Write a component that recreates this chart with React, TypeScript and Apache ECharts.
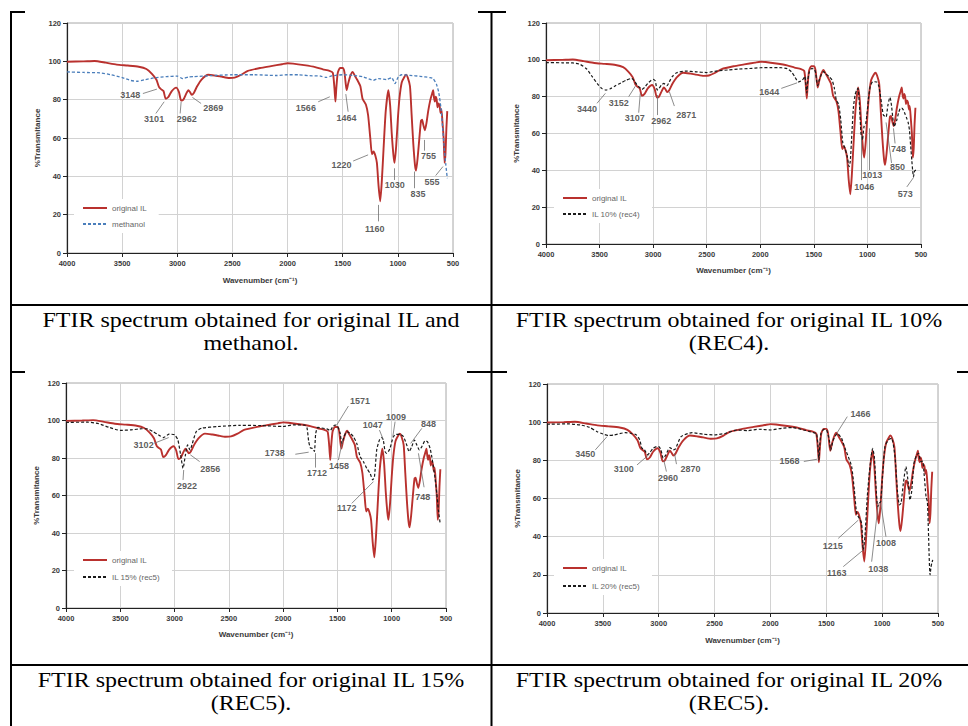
import React, { useEffect, useRef } from 'react';
import * as echarts from 'echarts';

type Pt = [number, number];

// ---- spectra: [wavenumber (cm-1), %Transmitance] ----
const ORIGINAL_IL: Pt[] = [
  [4000, 99.8], [3850, 100], [3750, 100.2], [3650, 99.3], [3550, 98.3], [3450, 97.8], [3350, 97.2],
  [3280, 96], [3230, 93.5], [3190, 90.5], [3165, 86.5], [3148, 85.5], [3125, 84.5], [3105, 80.5],
  [3080, 81.5], [3050, 84.5], [3010, 86.3], [2985, 84], [2965, 79.5], [2945, 80], [2920, 83],
  [2900, 85], [2885, 84], [2869, 82.5], [2850, 83.5], [2820, 87], [2780, 90.5], [2720, 93],
  [2650, 92.5], [2600, 92], [2530, 91.3], [2480, 91.5], [2420, 93], [2360, 95], [2250, 96.5],
  [2150, 97.5], [2050, 98.5], [2000, 99], [1950, 98.8], [1850, 98], [1750, 97], [1680, 95.8],
  [1620, 95], [1590, 94], [1575, 86], [1566, 79], [1558, 86], [1545, 94], [1525, 96.5], [1500, 96.5],
  [1485, 94.5], [1472, 88], [1464, 85], [1450, 88.5], [1430, 92.5], [1410, 94.5], [1390, 92.5],
  [1370, 90.5], [1340, 87], [1320, 80.5], [1290, 77.5], [1270, 72], [1250, 60], [1235, 51.5],
  [1220, 53], [1205, 51], [1190, 47], [1175, 35], [1160, 27], [1145, 38], [1130, 54], [1110, 74],
  [1086, 85], [1070, 77], [1055, 62], [1040, 51], [1030, 47], [1015, 56], [1000, 70], [985, 81],
  [965, 89], [940, 92], [925, 93], [910, 91.5], [890, 87], [875, 72], [860, 57], [845, 46],
  [835, 43], [820, 50], [805, 60], [790, 69], [780, 69.5], [770, 67], [755, 64], [740, 68],
  [725, 74], [705, 80], [690, 83], [680, 85], [672, 81], [664, 79], [657, 81.5], [648, 80],
  [640, 76], [632, 78], [622, 77], [612, 73], [605, 75], [595, 68], [585, 60], [576, 47],
  [568, 52], [560, 65], [552, 74],
];

const METHANOL: Pt[] = [
  [4000, 94.5], [3850, 94.2], [3700, 94], [3600, 93], [3500, 91.5], [3420, 90], [3366, 89.6],
  [3300, 90.3], [3200, 91.5], [3100, 92], [3000, 92.3], [2950, 91], [2900, 91.8], [2850, 92],
  [2700, 92.5], [2500, 93], [2300, 93], [2100, 92.6], [2000, 93], [1900, 93], [1800, 92.5],
  [1700, 92.3], [1650, 91.6], [1600, 92.4], [1500, 93], [1400, 92.6], [1313, 91.9], [1222, 90.1],
  [1177, 91], [1102, 90.5], [1056, 91.5], [1026, 88.4], [996, 91.9], [965, 93], [890, 92.7],
  [799, 92.2], [709, 91.5], [680, 91], [650, 88], [630, 84], [610, 76], [595, 66], [580, 55],
  [565, 46], [552, 39],
];

const IL_10_REC4: Pt[] = [
  [4000, 98.5], [3850, 98.4], [3750, 98.3], [3680, 97.5], [3620, 95], [3570, 91], [3520, 87],
  [3480, 84.5], [3440, 83.6], [3400, 84.3], [3350, 86], [3300, 87.5], [3250, 89], [3200, 89.9],
  [3175, 88.5], [3152, 86.5], [3130, 85.2], [3105, 84], [3080, 85], [3050, 87.2], [3020, 88.8],
  [3000, 89.4], [2980, 88.5], [2962, 83.6], [2945, 84.5], [2920, 86.5], [2900, 87.2], [2885, 86.5],
  [2871, 86], [2850, 88], [2820, 91], [2780, 93], [2700, 93.9], [2600, 93.5], [2500, 93.1],
  [2400, 94], [2300, 94.5], [2200, 95], [2100, 95.3], [2000, 95.7], [1900, 95.8], [1800, 95.7],
  [1750, 95.2], [1710, 93.5], [1680, 91], [1660, 89], [1644, 88], [1620, 88.5], [1600, 89.5],
  [1585, 91], [1575, 87], [1566, 82], [1558, 88], [1545, 93], [1520, 95.3], [1500, 95],
  [1485, 93.5], [1472, 88], [1464, 86], [1450, 89], [1430, 92], [1410, 93.6], [1390, 92.5],
  [1360, 91], [1330, 89], [1310, 85], [1290, 78], [1270, 76], [1250, 68], [1230, 55], [1210, 52],
  [1190, 48], [1171, 42], [1160, 45], [1145, 60], [1131, 74], [1115, 81], [1100, 83.6],
  [1088, 84.5], [1075, 76], [1060, 60], [1047, 56.4], [1032, 63.7], [1016, 65.5], [1005, 70],
  [990, 79], [975, 85.4], [960, 87.5], [944, 88.1], [913, 88], [895, 86], [882, 81.8], [865, 75],
  [851, 70], [826, 69], [810, 75], [795, 79], [789, 79.6], [775, 75], [764, 69], [751, 63.7],
  [740, 65], [726, 67.3], [710, 71], [695, 73.6], [680, 73.8], [664, 72.7], [648, 70.5],
  [633, 68.2], [620, 66], [608, 61.9], [596, 53], [586, 45.6], [578, 40], [570, 36.5], [562, 39],
  [555, 40], [545, 40],
];

const IL_15_REC5: Pt[] = [
  [4000, 99], [3800, 99.1], [3700, 98.3], [3600, 96.3], [3500, 94.7], [3400, 95], [3300, 95.6],
  [3250, 95.5], [3200, 94.1], [3150, 92.4], [3102, 90.9], [3050, 92.7], [3000, 92.4], [2970, 89.7],
  [2945, 82], [2922, 74.5], [2900, 81.7], [2880, 87], [2865, 85], [2856, 84.3], [2840, 87],
  [2800, 94.1], [2750, 95.9], [2600, 96.8], [2400, 97.4], [2200, 97.3], [2000, 96.8], [1900, 97.7],
  [1800, 97.5], [1780, 96], [1765, 89], [1750, 85.5], [1738, 85.2], [1725, 85], [1712, 83.5],
  [1700, 93], [1680, 96.3], [1600, 95.5], [1580, 95], [1568, 94.5], [1545, 96.5], [1521, 97.6],
  [1500, 97], [1475, 93.2], [1460, 87.8], [1439, 91.4], [1414, 94], [1383, 93.2], [1353, 91.4],
  [1322, 87.8], [1291, 80.7], [1260, 78], [1230, 74.5], [1199, 71.8], [1175, 68.3], [1159, 70],
  [1138, 84.3], [1113, 89.6], [1092, 91], [1076, 89], [1061, 83.4], [1046, 82.5], [1030, 83.5],
  [1015, 85.2], [985, 91.4], [960, 92.6], [923, 92.6], [892, 91.4], [862, 87], [840, 83.4],
  [816, 86], [791, 89.6], [769, 87], [745, 84.3], [723, 86], [692, 89.2], [671, 88.7], [647, 85.2],
  [631, 80.7], [616, 75.4], [600, 69], [585, 61.2], [570, 52.3], [554, 45.2],
];

const IL_20_REC5: Pt[] = [
  [4000, 98.9], [3800, 99.1], [3700, 98.5], [3620, 97.3], [3550, 95], [3500, 93.8], [3450, 93],
  [3400, 93.3], [3300, 94.5], [3250, 94.2], [3200, 93.3], [3170, 90.7], [3150, 86.3], [3130, 85.8],
  [3100, 82.9], [3080, 84], [3050, 86.3], [3020, 87.2], [3000, 87.2], [2980, 85.5], [2960, 81.1],
  [2940, 82.5], [2900, 86.7], [2870, 85.5], [2850, 86], [2800, 92.4], [2700, 94.5], [2600, 93.7],
  [2500, 93.3], [2400, 94.2], [2300, 95.9], [2200, 95.6], [2100, 96.3], [2000, 95.9], [1900, 96.8],
  [1800, 97.2], [1700, 95.9], [1646, 95], [1600, 94.3], [1587, 94.1], [1575, 88], [1566, 80.2],
  [1558, 88], [1548, 94], [1521, 96.2], [1497, 95.9], [1473, 90.7], [1461, 85.4], [1437, 90.7],
  [1401, 94.1], [1363, 91.5], [1333, 86.3], [1303, 81.9], [1273, 76.7], [1249, 64.5], [1228, 52.2],
  [1204, 49.6], [1184, 47], [1169, 33], [1154, 40], [1133, 61], [1109, 76.7], [1085, 86.3],
  [1070, 81.9], [1055, 66.2], [1040, 55.7], [1025, 57.5], [1013, 58.3], [995, 73.2], [975, 87.2],
  [945, 90.7], [915, 91.5], [885, 81.9], [864, 64.5], [846, 56.6], [831, 57.5], [810, 68],
  [787, 76.7], [766, 68], [751, 59.2], [736, 63.6], [715, 78.4], [691, 82.8], [673, 83.7],
  [655, 79.3], [637, 79.5], [625, 73.2], [607, 61], [595, 58.3], [586, 43.5], [577, 26], [571, 20],
  [563, 24], [556, 26], [547, 27.8],
];

// ---- peak annotations: label anchor and leader line, in data units ----
type Ann = { text: string; at: Pt; line: [Pt, Pt] };
const PEAKS_METHANOL: Ann[] = [
  { text: '3148', at: [3427, 82.4], line: [[3312, 83.2], [3185, 85.5]] },
  { text: '3101', at: [3210, 69.9], line: [[3194, 72.8], [3119, 78.9]] },
  { text: '2962', at: [2914, 69.9], line: [[2974, 72.8], [2965, 78.9]] },
  { text: '2869', at: [2673, 75.4], line: [[2784, 78], [2863, 81.2]] },
  { text: '1566', at: [1834, 75.9], line: [[1722, 78.9], [1617, 81.5]] },
  { text: '1464', at: [1466, 70.6], line: [[1451, 73.7], [1472, 82.9]] },
  { text: '1220', at: [1511, 46], line: [[1405, 48], [1270, 51.2]] },
  { text: '1030', at: [1028, 35.5], line: [[1034, 38.1], [1034, 44.2]] },
  { text: '1160', at: [1209, 12.7], line: [[1179, 16.5], [1179, 25.1]] },
  { text: '835', at: [817, 30.7], line: [[847, 33.8], [847, 42.5]] },
  { text: '755', at: [721, 50.8], line: [[763, 53.4], [763, 59]] },
  { text: '555', at: [690, 37.3], line: [[657, 40.4], [591, 45.1]] },
];
const PEAKS_REC4: Ann[] = [
  { text: '3440', at: [3617, 73.1], line: [[3524, 76.4], [3446, 81.8]] },
  { text: '3152', at: [3322, 76.4], line: [[3228, 80], [3166, 85.7]] },
  { text: '3107', at: [3172, 68.2], line: [[3135, 71.3], [3120, 81.8]] },
  { text: '2962', at: [2924, 67], line: [[2964, 70], [2964, 80.9]] },
  { text: '2871', at: [2690, 70], line: [[2802, 74.9], [2849, 82.7]] },
  { text: '1644', at: [1916, 82.7], line: [[1804, 84.5], [1657, 87.5]] },
  { text: '1046', at: [1030, 31], line: [[1060, 34.7], [1060, 59.2]] },
  { text: '1013', at: [954, 37.4], line: [[982, 40.1], [982, 62.8]] },
  { text: '748', at: [710, 51.5], line: [[742, 54.6], [757, 62.8]] },
  { text: '850', at: [719, 41.6], line: [[775, 44], [826, 66]] },
  { text: '573', at: [648, 27.4], line: [[632, 31], [570, 36.1]] },
];
const PEAKS_REC5_15: Ann[] = [
  { text: '3102', at: [3285, 87], line: [[3186, 87.9], [3054, 90.9]] },
  { text: '2922', at: [2886, 65.3], line: [[2922, 68.3], [2916, 73.6]] },
  { text: '2856', at: [2671, 74.2], line: [[2769, 78.1], [2855, 81.7]] },
  { text: '1738', at: [2078, 82.9], line: [[1888, 82], [1765, 83.1]] },
  { text: '1712', at: [1688, 71.9], line: [[1704, 74.9], [1704, 82.6]] },
  { text: '1458', at: [1485, 75.7], line: [[1491, 78.9], [1451, 89.6]] },
  { text: '1571', at: [1291, 110.6], line: [[1399, 107.7], [1506, 97.6]] },
  { text: '1047', at: [1175, 97.6], line: [[1113, 94.9], [1076, 89.6]] },
  { text: '1009', at: [960, 102], line: [[969, 99.4], [990, 91.4]] },
  { text: '848', at: [662, 98.1], line: [[723, 95.8], [825, 87.8]] },
  { text: '748', at: [714, 59], line: [[702, 64.4], [754, 82.5]] },
  { text: '1172', at: [1414, 53.2], line: [[1368, 55.8], [1168, 67.4]] },
];
const PEAKS_REC5_20: Ann[] = [
  { text: '3450', at: [3657, 83.2], line: [[3567, 85.5], [3463, 92.4]] },
  { text: '3100', at: [3313, 75.4], line: [[3194, 77.6], [3089, 82.9]] },
  { text: '2960', at: [2916, 70.6], line: [[2931, 74.1], [2955, 80.2]] },
  { text: '2870', at: [2716, 75.4], line: [[2841, 78], [2859, 83.7]] },
  { text: '1568', at: [1829, 79.4], line: [[1701, 79.4], [1581, 80.6]] },
  { text: '1466', at: [1193, 104.3], line: [[1312, 102.9], [1407, 94.1]] },
  { text: '1215', at: [1443, 35.3], line: [[1393, 39.1], [1213, 48.7]] },
  { text: '1163', at: [1407, 21.1], line: [[1348, 24.3], [1169, 33]] },
  { text: '1038', at: [1034, 23.1], line: [[1094, 26.9], [1034, 57.5]] },
  { text: '1008', at: [966, 36.9], line: [[966, 40], [1013, 57.5]] },
];

const REFERENCE_NAME = 'original IL';
const SAMPLE_NAMES = ['methanol', 'IL 10% (rec4)', 'IL 15% (rec5)', 'IL 20% (rec5)'];
const SAMPLE_DATA = [METHANOL, IL_10_REC4, IL_15_REC5, IL_20_REC5];
const PEAKS = [PEAKS_METHANOL, PEAKS_REC4, PEAKS_REC5_15, PEAKS_REC5_20];
const CAPTIONS: [string, string][] = [
  ['FTIR spectrum obtained for original IL and', 'methanol.'],
  ['FTIR spectrum obtained for original IL 10%', '(REC4).'],
  ['FTIR spectrum obtained for original IL 15%', '(REC5).'],
  ['FTIR spectrum obtained for original IL 20%', '(REC5).'],
];
const X_NAME = 'Wavenumber (cm\u207B\u00B9)';
const Y_NAME = '%Transmitance';

// ---- layout / style ----
const LAYOUT = [
  { left: 67, top: 23, width: 386, height: 230, xGap: 23, lgLeft: 74, lgTop: 199, lgGap: 8 },
  { left: 546, top: 23, width: 375, height: 221, xGap: 22, lgLeft: 554, lgTop: 189, lgGap: 8 },
  { left: 66, top: 383, width: 380, height: 225, xGap: 22, lgLeft: 74, lgTop: 551, lgGap: 9 },
  { left: 547, top: 384, width: 391, height: 229, xGap: 23, lgLeft: 554, lgTop: 559, lgGap: 10 },
];
const SAMPLE_STYLE = [
  { color: '#4a7ebb', width: 1.3 },
  { color: '#1a1a1a', width: 1.2 },
  { color: '#1a1a1a', width: 1.2 },
  { color: '#1a1a1a', width: 1.2 },
];
const RED = '#b9312e';
const SANS = '"Liberation Sans", Arial, sans-serif';
const SERIF = '"Liberation Serif", "Times New Roman", serif';

function buildOption() {
  const grid: any[] = [];
  const xAxis: any[] = [];
  const yAxis: any[] = [];
  const series: any[] = [];
  const legend: any[] = [];

  LAYOUT.forEach((L, i) => {
    grid.push({
      left: L.left, top: L.top, width: L.width, height: L.height,
      show: true, borderColor: '#a8a8a8', borderWidth: 1, backgroundColor: 'transparent',
      containLabel: false, outerBoundsMode: 'none',
    });
    xAxis.push({
      type: 'value', gridIndex: i, min: 500, max: 4000, interval: 500, inverse: true,
      name: X_NAME, nameLocation: 'middle', nameGap: L.xGap,
      nameTextStyle: { fontSize: 8, fontWeight: 'bold', color: '#3a3a3a', fontFamily: SANS },
      axisLine: { show: true, onZero: false, lineStyle: { color: '#222', width: 1.2 } },
      axisTick: { show: true, length: 4, lineStyle: { color: '#222' } },
      axisLabel: {
        fontSize: 7.5, fontWeight: 'bold', color: '#3a3a3a', fontFamily: SANS, margin: 6,
        formatter: (v: number) => String(v),
      },
      splitLine: { show: true, lineStyle: { color: '#d2d2d2', width: 1 } },
    });
    yAxis.push({
      type: 'value', gridIndex: i, min: 0, max: 120, interval: 20,
      name: Y_NAME, nameLocation: 'middle', nameGap: 26, nameRotate: 90,
      nameTextStyle: { fontSize: 8, fontWeight: 'bold', color: '#3a3a3a', fontFamily: SANS },
      axisLine: { show: true, onZero: false, lineStyle: { color: '#222', width: 1.2 } },
      axisTick: { show: true, length: 4, lineStyle: { color: '#222' } },
      axisLabel: {
        fontSize: 7.5, fontWeight: 'bold', color: '#3a3a3a', fontFamily: SANS, margin: 6,
        formatter: (v: number) => String(v),
      },
      splitLine: { show: true, lineStyle: { color: '#d2d2d2', width: 1 } },
    });
    series.push({
      name: REFERENCE_NAME, type: 'line', xAxisIndex: i, yAxisIndex: i,
      data: ORIGINAL_IL, symbol: 'none', showSymbol: false, smooth: 0.2, z: 3,
      lineStyle: { color: RED, width: 1.9 }, itemStyle: { color: RED },
      emphasis: { disabled: true },
    });
    const st = SAMPLE_STYLE[i];
    series.push({
      name: SAMPLE_NAMES[i], type: 'line', xAxisIndex: i, yAxisIndex: i,
      data: SAMPLE_DATA[i], symbol: 'none', showSymbol: false, smooth: 0.2, z: 4,
      lineStyle: { color: st.color, width: st.width, type: [3, 2] }, itemStyle: { color: st.color },
      emphasis: { disabled: true },
    });
    const anns = PEAKS[i];
    series.push({
      type: 'scatter', xAxisIndex: i, yAxisIndex: i, silent: true, z: 6,
      symbolSize: 1, itemStyle: { color: 'rgba(0,0,0,0)' },
      data: anns.map((a) => ({ name: a.text, value: a.at })),
      label: {
        show: true, position: 'inside', formatter: '{b}', fontSize: 9, fontWeight: 'bold',
        color: '#333', fontFamily: SANS,
      },
      emphasis: { disabled: true },
      markLine: {
        silent: true, symbol: ['none', 'none'], label: { show: false },
        lineStyle: { color: '#6e6e6e', width: 0.8, type: 'solid' },
        emphasis: { disabled: true },
        data: anns.map((a) => [{ coord: a.line[0] }, { coord: a.line[1] }]),
      },
    });
    legend.push({
      data: [REFERENCE_NAME, SAMPLE_NAMES[i]], orient: 'vertical',
      left: L.lgLeft, top: L.lgTop, itemWidth: 24, itemHeight: 8, itemGap: L.lgGap,
      padding: [5, 12, 5, 8], backgroundColor: '#fff', selectedMode: false,
      itemStyle: { opacity: 0, borderWidth: 0 },
      textStyle: { fontSize: 8, color: '#666', fontFamily: SANS },
    });
  });

  // table borders and captions
  const graphic: any[] = [];
  const ln = (x1: number, y1: number, x2: number, y2: number) => ({
    type: 'line', silent: true, z: 10,
    shape: { x1, y1, x2, y2 }, style: { stroke: '#000', lineWidth: 2 },
  });
  graphic.push(ln(11, 12, 11, 726));
  graphic.push(ln(491.5, 12, 491.5, 726));
  graphic.push(ln(10, 305, 968, 305));
  graphic.push(ln(10, 665, 968, 665));
  graphic.push(ln(10, 12, 25, 12), ln(478, 12, 506, 12), ln(944, 12, 968, 12));
  graphic.push(ln(10, 372, 25, 372), ln(467, 372, 507, 372), ln(957, 372, 968, 372));
  const capX = [251, 729, 251, 729];
  const capY = [305, 305, 665, 665];
  CAPTIONS.forEach((c, i) => {
    c.forEach((t, k) => {
      graphic.push({
        type: 'text', silent: true, z: 10, x: capX[i], y: capY[i] + 14 + k * 23, scaleX: 1.09,
        style: {
          text: t, fontSize: 22, fontFamily: SERIF, fill: '#000',
          align: 'center', verticalAlign: 'middle',
        },
      });
    });
  });

  return {
    animation: false,
    backgroundColor: '#fff',
    grid, xAxis, yAxis, series, legend, graphic,
  };
}

export default function App() {
  const ref = useRef<HTMLDivElement>(null);
  useEffect(() => {
    if (!ref.current) return;
    const chart = echarts.init(ref.current, undefined, { renderer: 'svg' });
    chart.setOption(buildOption() as any);
    return () => chart.dispose();
  }, []);
  return (
    <div
      ref={ref}
      style={{ position: 'absolute', left: 0, top: 0, width: 968, height: 726, background: '#fff' }}
    />
  );
}
